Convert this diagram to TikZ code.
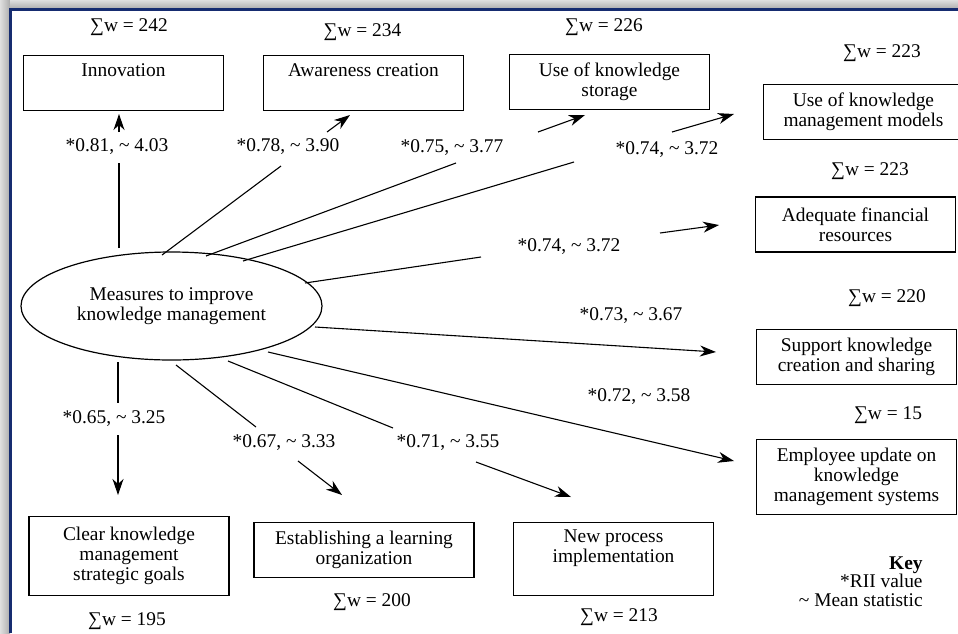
\documentclass[tikz,border=0pt]{standalone}
\usepackage{fontspec}
\setmainfont{Liberation Serif}
\usepackage{tikz}
\usetikzlibrary{shapes.geometric,arrows.meta}
\definecolor{framebl}{RGB}{22,44,112}
\newcommand{\tld}{\textasciitilde}

\tikzset{
  kmbox/.style={draw, line width=0.9pt, minimum width=100pt, minimum height=27.5pt,
    align=center, inner sep=1pt, font=\fontsize{9.7}{10}\selectfont},
  wsum/.style={font=\fontsize{9.7}{10}\selectfont, inner sep=1pt},
  rii/.style={font=\fontsize{9.7}{10}\selectfont, inner sep=1pt},
  arr/.style={-{Stealth[length=8pt,width=5.5pt,inset=2.5pt]}},
  link/.style={line width=0.55pt},
}

\begin{document}
\begin{tikzpicture}[x=0.5pt,y=-0.5pt]
    \useasboundingbox (0,0) rectangle (958,633);

    % window frame (gray shadow + blue edge)
    \shade[left color=gray!25, right color=gray!65] (0,0) rectangle (10,633);
    \shade[top color=gray!25, bottom color=gray!65] (10,0) rectangle (958,9);
    \draw[framebl, line width=1.3pt] (10.5,633) |- (958,9.5);

    % central factor
    \node[draw, ellipse, line width=0.6pt, minimum width=150.5pt, minimum height=54pt,
        align=center, inner sep=0pt, font=\fontsize{9.7}{10}\selectfont]
        (m) at (171.5,306) {Measures to improve\\knowledge management};

    % measures - top row
    \node[kmbox] (inno) at (123.5,83) {Innovation\\ \strut};
    \node[kmbox] (aware) at (363.5,83) {Awareness creation\\ \strut};
    \node[kmbox] (store) at (609.5,82) {Use of knowledge\\storage};
    \node[kmbox] (models) at (863.5,112) {Use of knowledge\\management models};

    % measures - right column
    \node[kmbox] (finance) at (855.5,224.5) {Adequate financial\\resources};
    \node[kmbox] (support) at (856.5,357) {Support knowledge\\creation and sharing};
    \node[kmbox, minimum height=37.5pt] (update) at (856.5,477) {Employee update on\\knowledge\\management systems};

    % measures - bottom row
    \node[kmbox, minimum height=36.5pt] (process) at (613.5,559) {New process\\implementation\\ \strut};
    \node[kmbox, minimum width=110pt] (learn) at (364,550) {Establishing a learning\\organization};
    \node[kmbox, minimum height=39.5pt] (goals) at (129,556) {Clear knowledge\\management\\strategic goals};

    % sum of weights
    \node[wsum] (inno-w) at (129,27) {∑w = 242};
    \node[wsum] (aware-w) at (362.5,32) {∑w = 234};
    \node[wsum] (store-w) at (604,27) {∑w = 226};
    \node[wsum] (models-w) at (882,53) {∑w = 223};
    \node[wsum] (finance-w) at (870,171) {∑w = 223};
    \node[wsum] (support-w) at (887,298) {∑w = 220};
    \node[wsum] (update-w) at (888,415) {∑w = 15};
    \node[wsum] (process-w) at (619,617) {∑w = 213};
    \node[wsum] (learn-w) at (372,602) {∑w = 200};
    \node[wsum] (goals-w) at (127,621) {∑w = 195};

    % RII and mean labels
    \node[rii] (inno-l) at (117,147) {*0.81, \tld{} 4.03};
    \node[rii] (aware-l) at (288,147) {*0.78, \tld{} 3.90};
    \node[rii] (store-l) at (452,148) {*0.75, \tld{} 3.77};
    \node[rii] (models-l) at (667,150) {*0.74, \tld{} 3.72};
    \node[rii] (finance-l) at (569,247) {*0.74, \tld{} 3.72};
    \node[rii] (support-l) at (631,316) {*0.73, \tld{} 3.67};
    \node[rii] (update-l) at (639,397) {*0.72, \tld{} 3.58};
    \node[rii] (process-l) at (448,443) {*0.71, \tld{} 3.55};
    \node[rii] (learn-l) at (284,443) {*0.67, \tld{} 3.33};
    \node[rii] (goals-l) at (114,419) {*0.65, \tld{} 3.25};

    % end points of the connector pieces
    \coordinate (inno-a) at (119,248);  \coordinate (inno-b) at (119,163);
    \coordinate (inno-c) at (119,132);  \coordinate (inno-d) at (119,114);
    \coordinate (aware-a) at (162,255); \coordinate (aware-b) at (281,166);
    \coordinate (aware-c) at (327,132); \coordinate (aware-d) at (350,115);
    \coordinate (store-a) at (206,256); \coordinate (store-b) at (456,163);
    \coordinate (store-c) at (538,132); \coordinate (store-d) at (585,115);
    \coordinate (models-a) at (243,261); \coordinate (models-b) at (574,162);
    \coordinate (models-c) at (672,132); \coordinate (models-d) at (734,114);
    \coordinate (finance-a) at (305,283); \coordinate (finance-b) at (481,257);
    \coordinate (finance-c) at (660,233); \coordinate (finance-d) at (719,225);
    \coordinate (support-a) at (315,327); \coordinate (support-d) at (716,352);
    \coordinate (update-a) at (268,352); \coordinate (update-d) at (734,461);
    \coordinate (process-a) at (228,361); \coordinate (process-b) at (393,428);
    \coordinate (process-c) at (476,462); \coordinate (process-d) at (571,497);
    \coordinate (learn-a) at (176,365); \coordinate (learn-b) at (256,427);
    \coordinate (learn-c) at (298,461); \coordinate (learn-d) at (342,495);
    \coordinate (goals-a) at (118,362); \coordinate (goals-b) at (118,403);
    \coordinate (goals-c) at (118,435); \coordinate (goals-d) at (118,495);

    % connectors, broken by their labels
    \draw[link] (inno-a) -- (inno-b);
    \draw[link, arr] (inno-c) -- (inno-d);
    \draw[link] (aware-a) -- (aware-b);
    \draw[link, arr] (aware-c) -- (aware-d);
    \draw[link] (store-a) -- (store-b);
    \draw[link, arr] (store-c) -- (store-d);
    \draw[link] (models-a) -- (models-b);
    \draw[link, arr] (models-c) -- (models-d);
    \draw[link] (finance-a) -- (finance-b);
    \draw[link, arr] (finance-c) -- (finance-d);
    \draw[link, arr] (support-a) -- (support-d);
    \draw[link, arr] (update-a) -- (update-d);
    \draw[link] (process-a) -- (process-b);
    \draw[link, arr] (process-c) -- (process-d);
    \draw[link] (learn-a) -- (learn-b);
    \draw[link, arr] (learn-c) -- (learn-d);
    \draw[link] (goals-a) -- (goals-b);
    \draw[link, arr] (goals-c) -- (goals-d);

    % key
    \node[anchor=north east, align=right, inner sep=0pt, font=\fontsize{9.7}{9.4}\selectfont]
        (key) at (923,556) {\textbf{Key}\\*RII value\\\tld{} Mean statistic};

\end{tikzpicture}
\end{document}
